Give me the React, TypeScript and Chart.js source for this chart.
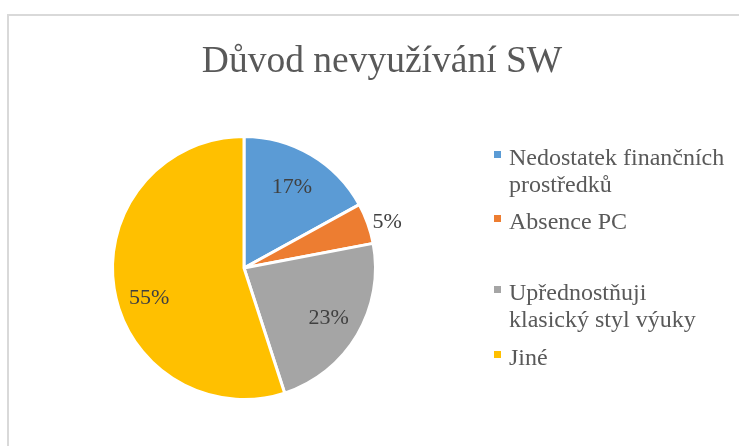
import React, { useEffect, useRef } from "react";
import { Chart, registerables } from "chart.js";

Chart.register(...registerables);

const chartTitle = "Důvod nevyužívání SW";
const categories = [
  "Nedostatek finančních\nprostředků",
  "Absence PC",
  "Upřednostňuji\nklasický styl výuky",
  "Jiné",
];
const values = [17, 5, 23, 55];
const colors = ["#5B9BD5", "#ED7D31", "#A5A5A5", "#FFC000"];

const SERIF = '"Liberation Serif", "Times New Roman", Times, serif';
const W = 739;
const H = 446;

// legend layout (item top positions)
const legendTops = [144, 208, 279, 344];
// small label nudges (px) to mimic Excel's best-fit placement
const labelNudge = [
  [-1, 2],
  [0, 0],
  [2, 1],
  [0, 15],
];

export default function App() {
  const ref = useRef<HTMLCanvasElement>(null);

  useEffect(() => {
    if (!ref.current) return;
    const total = values.reduce((a, b) => a + b, 0);

    const titlePlugin = {
      id: "customTitle",
      afterDraw(chart: any) {
        const ctx = chart.ctx;
        ctx.save();
        ctx.font = `37.5px ${SERIF}`;
        ctx.fillStyle = "#595959";
        ctx.textAlign = "center";
        ctx.textBaseline = "alphabetic";
        ctx.fillText(chartTitle, 382, 72);
        ctx.restore();
      },
    };

    const labelPlugin = {
      id: "sliceLabels",
      afterDatasetsDraw(chart: any) {
        const ctx = chart.ctx;
        const meta = chart.getDatasetMeta(0);
        ctx.save();
        ctx.font = `22px ${SERIF}`;
        ctx.fillStyle = "#404040";
        ctx.textBaseline = "middle";
        meta.data.forEach((arc: any, i: number) => {
          const p = arc.getProps(["x", "y", "startAngle", "endAngle", "outerRadius"], true);
          const mid = (p.startAngle + p.endAngle) / 2;
          const frac = values[i] / total;
          const txt = Math.round(frac * 100) + "%";
          const [nx, ny] = labelNudge[i];
          if (frac < 0.08) {
            const r = p.outerRadius + 5;
            ctx.textAlign = "left";
            ctx.fillText(txt, p.x + r * Math.cos(mid) + nx, p.y + r * Math.sin(mid) + ny);
          } else {
            const r = p.outerRadius * 0.73;
            ctx.textAlign = "center";
            ctx.fillText(txt, p.x + r * Math.cos(mid) + nx, p.y + r * Math.sin(mid) + ny);
          }
        });
        ctx.restore();
      },
    };

    const chart = new Chart(ref.current, {
      type: "pie",
      data: {
        labels: categories,
        datasets: [
          {
            data: values,
            backgroundColor: colors,
            borderColor: "#ffffff",
            borderWidth: 3,
          },
        ],
      },
      options: {
        responsive: false,
        maintainAspectRatio: false,
        animation: false,
        layout: {
          padding: { left: 111, right: W - 377, top: 135, bottom: H - 401 },
        },
        plugins: {
          legend: { display: false },
          title: { display: false },
          tooltip: { enabled: false },
        },
      },
      plugins: [titlePlugin, labelPlugin],
    });
    return () => chart.destroy();
  }, []);

  return (
    <div
      style={{
        position: "fixed",
        left: 0,
        top: 0,
        width: W,
        height: H,
        background: "#ffffff",
        overflow: "hidden",
      }}
    >
      <div
        style={{
          position: "absolute",
          left: 7,
          top: 14,
          right: 0,
          bottom: 0,
          borderTop: "2px solid #d9d9d9",
          borderLeft: "2px solid #d9d9d9",
        }}
      />
      <canvas
        ref={ref}
        width={W}
        height={H}
        style={{ position: "absolute", left: 0, top: 0, width: W, height: H }}
      />
      {categories.map((c, i) => (
        <div
          key={i}
          style={{
            position: "absolute",
            left: 494,
            top: legendTops[i],
            fontFamily: SERIF,
            fontSize: 24,
            lineHeight: "27px",
            color: "#595959",
            whiteSpace: "pre-line",
          }}
        >
          <span
            style={{
              position: "absolute",
              left: 0,
              top: 7,
              width: 7,
              height: 7,
              background: colors[i],
            }}
          />
          <div style={{ marginLeft: 15 }}>{c}</div>
        </div>
      ))}
    </div>
  );
}
